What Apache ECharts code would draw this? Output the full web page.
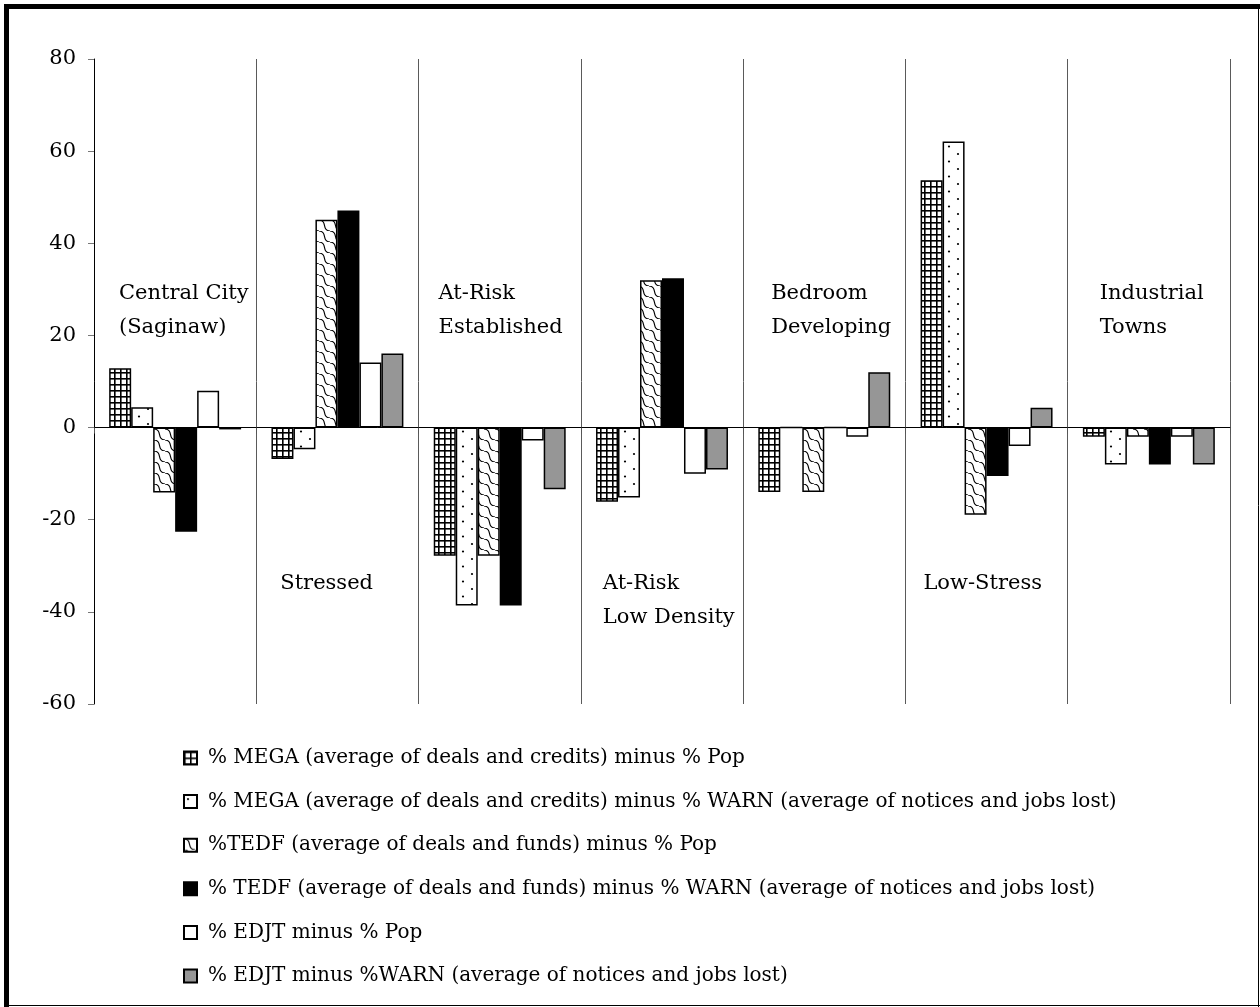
<!DOCTYPE html>
<html>
<head>
<meta charset="utf-8">
<title>Incentive share minus population / WARN share by community type</title>
<script src="https://cdn.jsdelivr.net/npm/echarts@6/dist/echarts.min.js"></script>
<style>
  html, body { margin: 0; padding: 0; background: #fff; }
  #chart { width: 1260px; height: 1007px; }
</style>
</head>
<body>
<div id="chart"></div>
<script>
// Community types (two-line labels drawn inside the plot)
const categories = [
  'Central City\n(Saginaw)',
  'Stressed',
  'At-Risk\nEstablished',
  'At-Risk\nLow Density',
  'Bedroom\nDeveloping',
  'Low-Stress',
  'Industrial\nTowns'
];

// Differences in percentage points, one value per community type
const megaMinusPop  = [12.9, -6.8, -27.8, -16.1, -14.0, 53.7, -2.0];
const megaMinusWarn = [4.4, -4.7, -38.6, -15.2, 0, 62.1, -8.0];
const tedfMinusPop  = [-14.1, 45.1, -27.8, 32.0, -14.0, -18.9, -2.0];
const tedfMinusWarn = [-22.6, 47.1, -38.6, 32.4, 0, -10.5, -8.0];
const edjtMinusPop  = [8.0, 14.1, -2.8, -10.0, -2.0, -4.0, -2.0];
const edjtMinusWarn = [-0.4, 16.1, -13.4, -9.1, 12.0, 4.3, -8.0];

const seriesNames = [
  '% MEGA (average of deals and credits) minus % Pop',
  '% MEGA (average of deals and credits) minus % WARN (average of notices and jobs lost)',
  '%TEDF (average of deals and funds) minus % Pop',
  '% TEDF (average of deals and funds) minus % WARN (average of notices and jobs lost)',
  '% EDJT minus % Pop',
  '% EDJT minus %WARN (average of notices and jobs lost)'
];

// Y-axis ticks
const yTicks = [-60, -40, -20, 0, 20, 40, 60, 80];

// Which labels sit above the bars (true) or below them (false)
const labelAbove = [true, false, true, false, true, false, true];
// small horizontal nudges (px) from the left edge of each category band
const labelDx = [25, 24, 20, 22, 28, 18, 32];

const FONT = 'DejaVu Serif';

// ---- fill patterns ----
function makeCanvas(w, h) {
  const c = document.createElement('canvas');
  c.width = w; c.height = h;
  const ctx = c.getContext('2d');
  ctx.fillStyle = '#fff';
  ctx.fillRect(0, 0, w, h);
  return [c, ctx];
}

function gridPattern() {
  const [c, ctx] = makeCanvas(6, 6);
  ctx.fillStyle = '#000';
  ctx.fillRect(0, 0, 6, 1.6);
  ctx.fillRect(0, 0, 1.6, 6);
  return { image: c, repeat: 'repeat' };
}

function dotPattern() {
  const [c, ctx] = makeCanvas(18, 15);
  ctx.fillStyle = '#000';
  ctx.beginPath(); ctx.arc(4, 4, 1.1, 0, Math.PI * 2); ctx.fill();
  ctx.beginPath(); ctx.arc(13, 11.5, 1.1, 0, Math.PI * 2); ctx.fill();
  return { image: c, repeat: 'repeat' };
}

function wavePattern() {
  const [c, ctx] = makeCanvas(11, 11);
  ctx.strokeStyle = '#000';
  ctx.lineWidth = 1.2;
  const s = (dx) => {
    ctx.beginPath();
    ctx.moveTo(dx, 0);
    ctx.bezierCurveTo(dx + 9, 1, dx + 2, 10, dx + 11, 11);
    ctx.stroke();
  };
  s(-11); s(0); s(11);
  return { image: c, repeat: 'repeat' };
}

const fills = [gridPattern(), dotPattern(), wavePattern(), '#000000', '#ffffff', '#969696'];
const values = [megaMinusPop, megaMinusWarn, tedfMinusPop, tedfMinusWarn, edjtMinusPop, edjtMinusWarn];

const GRID = { left: 94, right: 30, top: 59, bottom: 303 };

const chart = echarts.init(document.getElementById('chart'), null, { renderer: 'canvas' });

const option = {
  animation: false,
  backgroundColor: '#ffffff',
  textStyle: { fontFamily: FONT },
  grid: GRID,
  xAxis: {
    type: 'category',
    data: categories,
    axisLine: { onZero: true, lineStyle: { color: '#000', width: 1 } },
    axisTick: { show: true, length: 6, lineStyle: { color: '#555' } },
    axisLabel: { show: false },
    splitLine: { show: true, lineStyle: { color: '#5a5a5a', width: 1 } }
  },
  yAxis: {
    type: 'value',
    min: yTicks[0],
    max: yTicks[yTicks.length - 1],
    interval: 20,
    axisLine: { show: true, lineStyle: { color: '#000', width: 1 } },
    axisTick: { show: true, length: 6, lineStyle: { color: '#777' } },
    axisLabel: { fontFamily: FONT, fontSize: 21, color: '#000', margin: 18 },
    splitLine: { show: false }
  },
  legend: {
    orient: 'vertical',
    left: 178,
    top: 742,
    itemWidth: 13,
    itemHeight: 13,
    itemGap: 21.6,
    icon: 'rect',
    data: seriesNames,
    formatter: (name) => '{t|' + name + '}',
    textStyle: {
      fontFamily: FONT,
      fontSize: 20,
      color: '#000',
      lineHeight: 22,
      rich: {
        t: { fontFamily: FONT, fontSize: 20, color: '#000', lineHeight: 22, padding: [0, 0, 0, 6] }
      }
    }
  },
  series: seriesNames.map((name, i) => ({
    name: name,
    type: 'bar',
    data: values[i],
    barGap: '0%',
    barCategoryGap: '18.7%',
    itemStyle: { color: fills[i], borderColor: '#000', borderWidth: 1.5 },
    emphasis: { disabled: true }
  }))
};

chart.setOption(option);

// Category names written inside the plot, alternating above / below the bars
function drawLabels() {
  const band = (1260 - GRID.left - GRID.right) / categories.length;
  const elements = [];
  categories.forEach((name, i) => {
    const cx = chart.convertToPixel({ xAxisIndex: 0 }, i);
    const x0 = cx - band / 2 + labelDx[i];
    const y0 = labelAbove[i] ? 277 : 567;
    elements.push({
      type: 'text',
      x: x0,
      y: y0,
      style: {
        text: name,
        fontFamily: FONT,
        fontSize: 21,
        fill: '#000',
        align: 'left',
        verticalAlign: 'top',
        lineHeight: 34
      },
      z: 10
    });
  });
  // page frame: heavy top/left edge, thin right/bottom edge
  elements.push({ type: 'rect', shape: { x: 4, y: 4, width: 1256, height: 5 }, style: { fill: '#000' }, z: 20 });
  elements.push({ type: 'rect', shape: { x: 4, y: 4, width: 5, height: 1003 }, style: { fill: '#000' }, z: 20 });
  elements.push({ type: 'line', shape: { x1: 1258.5, y1: 4, x2: 1258.5, y2: 1007 }, style: { stroke: '#000', lineWidth: 1 }, z: 20 });
  elements.push({ type: 'line', shape: { x1: 4, y1: 1005.5, x2: 1260, y2: 1005.5 }, style: { stroke: '#000', lineWidth: 1 }, z: 20 });
  chart.setOption({ graphic: { elements: elements } });
}
drawLabels();
</script>
</body>
</html>
